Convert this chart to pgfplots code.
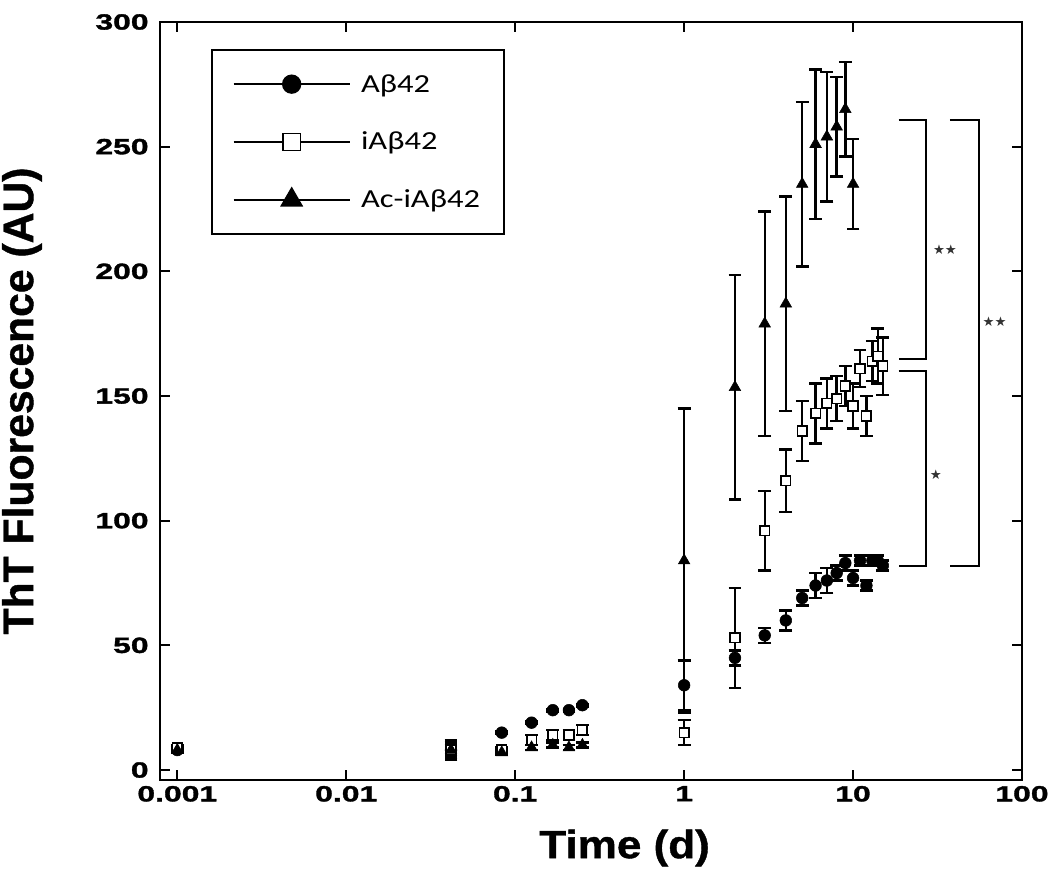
\documentclass[border=0pt]{standalone}
\usepackage{fontspec}
\usepackage{pgfplots}
\usepackage{pgfplotstable}
\pgfplotsset{compat=1.18}
\setmainfont{Liberation Sans}
\newfontfamily\tickfont[FakeStretch=1.45,FakeBold=1.5]{Liberation Sans}
\newfontfamily\labfont[FakeStretch=1.12,FakeBold=1]{Liberation Sans}
\newfontfamily\ylabfont[FakeBold=1]{Liberation Sans}
\newfontfamily\legfont[FakeStretch=1.25]{Carlito}
\newfontfamily\starfont{DejaVu Sans}

\pgfplotstableread{
x y e
0.001 8 1
0.0417 8 2
0.0833 15 0.5
0.125 19 0.5
0.167 24 0.5
0.208 24 0.5
0.25 26 0.5
1 34 10
2 45 3
3 54 3
4 60 4
5 69 3
6 74 5
7 76 5
8 79 3
9 83 3
10 77 3
11 84 2
12 74 2
13 84 2
14 84 2
15 82 2
}\tabA

\pgfplotstableread{
x y e
0.001 9 1
0.0417 8 4
0.0833 8 1
0.125 12 2
0.167 14 2
0.208 14 2
0.25 16 2
1 15 5
2 53 20
3 96 16
4 116 12.5
5 136 12
6 143 12
7 147 10
8 149 9
9 154 8
10 146 9
11 161 7.5
12 142 8
13 164 8
14 166 11
15 162 11.5
}\tabB

\pgfplotstableread{
x y e
0.001 8 1
0.0417 8 3
0.0833 7 1
0.125 9 1
0.167 10 1
0.208 9 1
0.25 10 1
1 84 61
2 153.5 45
3 179 45
4 187 43
5 235 33
6 251 30
7 254 26
8 258 20
9 265 19
10 235 18
}\tabC

\begin{document}
\begin{tikzpicture}
\useasboundingbox (-120pt,-85.5pt) rectangle (667.5pt,585pt);
\begin{axis}[
  at={(0pt,0pt)}, anchor=south west,
  scale only axis, width=646.5pt, height=568.5pt,
  xmode=log, xmin=0.00079, xmax=100, ymin=-4, ymax=300,
  xtick={0.001,0.01,0.1,1,10,100},
  xticklabels={0.001,0.01,0.1,1,10,100},
  ytick={0,50,100,150,200,250,300},
  xminorticks=false, yminorticks=false,
  tick align=inside, major tick length=7.5pt,
  every tick/.style={line width=1.5pt, black},
  axis line style={line width=1.5pt},
  /pgf/number format/assume math mode=true,
  tick label style={font=\tickfont\bfseries\fontsize{16.5}{18}\selectfont},
  yticklabel style={xshift=-5pt},
  xticklabel style={yshift=-1pt},
  xlabel={Time (d)}, ylabel={ThT Fluorescence (AU)},
  xlabel style={font=\labfont\bfseries\fontsize{29.5}{32}\selectfont, at={(axis description cs:0.539,-0.0897)}, anchor=center},
  ylabel style={font=\ylabfont\bfseries\fontsize{32}{34}\selectfont, at={(axis description cs:-0.16,0.5)}, anchor=center},
  legend image code/.code={\draw[mark repeat=2,mark phase=2,#1] plot coordinates {(0pt,0pt) (43.5pt,0pt) (87pt,0pt)};},
  legend style={at={(axis description cs:0.0588,0.964)}, anchor=north west, draw=black, line width=1.5pt,
    font=\legfont\fontsize{19.5}{22}\selectfont, inner xsep=16pt, inner ysep=16pt, row sep=24.5pt, column sep=6pt},
  legend cell align=left,
  clip=false,
]
\addlegendimage{black, line width=1pt, mark=*, mark size=6.75pt, mark options={fill=black, solid}}
\addlegendentry{Aβ42}
\addlegendimage{black, line width=1pt, mark=square*, mark size=6.5pt, mark options={fill=white, solid, line width=1.1pt}}
\addlegendentry{iAβ42}
\addlegendimage{black, line width=1pt, mark=triangle*, mark size=9pt, mark options={fill=black, solid}}
\addlegendentry{Ac-iAβ42}

\addplot[forget plot, black, only marks, mark=*, mark size=4.4pt, mark options={fill=black},
  error bars/.cd, y dir=both, y explicit,
  error bar style={line width=1.8pt, black},
  error mark options={rotate=90, line width=1.8pt, mark size=4.8pt, black}]
  table[x=x, y=y, y error=e]{\tabA};
\addplot[forget plot, black, only marks, mark=square*, mark size=3.6pt, mark options={fill=white, line width=1.2pt},
  error bars/.cd, y dir=both, y explicit,
  error bar style={line width=1.8pt, black},
  error mark options={rotate=90, line width=1.8pt, mark size=4.8pt, black}]
  table[x=x, y=y, y error=e]{\tabB};
\addplot[forget plot, black, only marks, mark=triangle*, mark size=5pt, mark options={fill=black},
  error bars/.cd, y dir=both, y explicit,
  error bar style={line width=1.8pt, black},
  error mark options={rotate=90, line width=1.8pt, mark size=4.8pt, black}]
  table[x=x, y=y, y error=e]{\tabC};

\draw[line width=1.5pt] (axis cs:18.6,260.7) -| (axis cs:27.1,165) -- (axis cs:18.6,165);
\draw[line width=1.5pt] (axis cs:18.6,160.2) -| (axis cs:27.1,81.7) -- (axis cs:18.6,81.7);
\draw[line width=1.5pt] (axis cs:37.4,260.7) -| (axis cs:55.6,81.7) -- (axis cs:37.4,81.7);
\node[font=\starfont\fontsize{10}{11}\selectfont, text=black!80] at (axis cs:35,208.5) {★★};
\node[font=\starfont\fontsize{10}{11}\selectfont, text=black!80] at (axis cs:30.9,118.5) {★};
\node[font=\starfont\fontsize{10}{11}\selectfont, text=black!80] at (axis cs:68.8,180) {★★};
\end{axis}
\end{tikzpicture}
\end{document}
